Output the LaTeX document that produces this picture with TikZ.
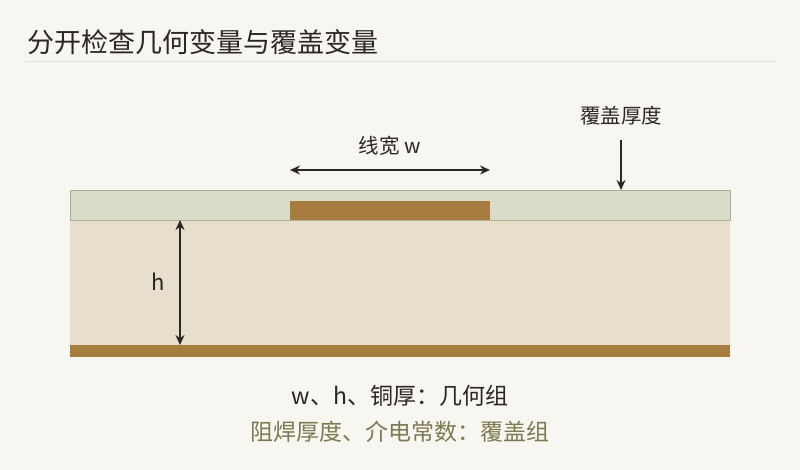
\documentclass[tikz,border=0pt]{standalone}
\usepackage{fontspec}
\setmainfont{Noto Sans CJK SC}
\usetikzlibrary{arrows.meta}
\definecolor{bg}{HTML}{F8F6F1}
\definecolor{mask}{HTML}{D8DCC8}
\definecolor{maskb}{HTML}{A8B290}
\definecolor{sub}{HTML}{E7DFCB}
\definecolor{cu}{HTML}{A67D3F}
\definecolor{ink}{HTML}{2B2723}
\definecolor{olive}{HTML}{7D7A50}
\begin{document}
\begin{tikzpicture}[x=1pt,y=-1pt,
  lbl/.style={font=\fontsize{20.5}{24}\selectfont,text=ink},
  tip/.style={Stealth[length=10pt,width=9pt]},
  dim/.style={draw=ink,line width=1.6pt,{Stealth[length=10pt,width=9pt]}-{Stealth[length=10pt,width=9pt]}}]
\fill[bg] (0,0) rectangle (800,470);
\useasboundingbox (0,0) rectangle (800,470);
\node[anchor=west,font=\fontsize{27}{31}\selectfont,text=ink] (title) at (24,42) {分开检查几何变量与覆盖变量};
\draw[black!12,line width=1pt] (26,62) -- (776,62);
\fill[sub] (70,220) rectangle (730,345);
\draw[maskb,fill=mask,line width=0.8pt] (70,190) rectangle (730,220);
\fill[cu] (70,345) rectangle (730,357);
\fill[cu] (290,201) rectangle (490,220);
\coordinate (wl) at (290,170); \coordinate (wr) at (490,170);
\draw[dim] (wl) -- (wr);
\node[lbl] (wlab) at (390,146) {线宽 w};
\node[lbl] (clab) at (621,116) {覆盖厚度};
\coordinate (ct) at (621,140); \coordinate (cb) at (621,190);
\draw[draw=ink,line width=1.6pt,-{Stealth[length=10pt,width=9pt]}] (ct) -- (cb);
\coordinate (ht) at (180,220); \coordinate (hb) at (180,345);
\draw[dim] (ht) -- (hb);
\node[font=\fontsize{22}{26}\selectfont,text=ink] (hlab) at (158,282) {h};
\node[font=\fontsize{23}{27}\selectfont,text=ink] (g1) at (400,396) {w、h、铜厚：几何组};
\node[font=\fontsize{23}{27}\selectfont,text=olive] (g2) at (400,432) {阻焊厚度、介电常数：覆盖组};
\end{tikzpicture}
\end{document}
